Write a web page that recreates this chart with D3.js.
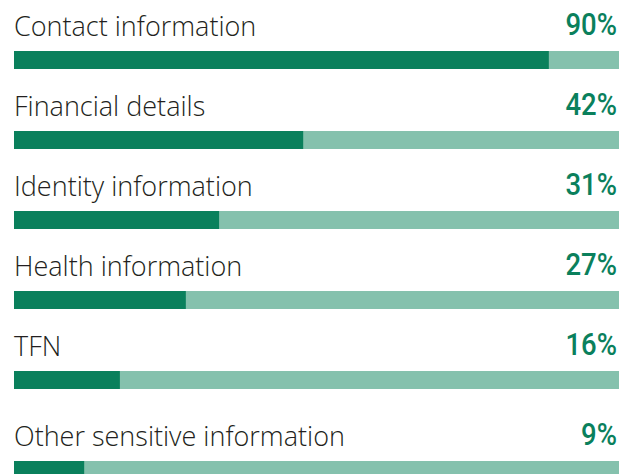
<!DOCTYPE html>
<html>
<head>
<meta charset="utf-8">
<script src="https://cdn.jsdelivr.net/npm/d3@7"></script>
<style>
  html, body { margin: 0; padding: 0; background: #fff; }
  svg { display: block; }
</style>
</head>
<body>
<div id="chart"></div>
<script>
// data
const categories = [
  "Contact information",
  "Financial details",
  "Identity information",
  "Health information",
  "TFN",
  "Other sensitive information"
];
// printed percentages
const valueLabels = ["90%", "42%", "31%", "27%", "16%", "9%"];
// length of the dark segment, share of the full track (measured on the bars)
const barShares = [88.4, 47.8, 33.9, 28.4, 17.5, 11.6];

const width = 635;
const height = 474;
const margin = { left: 14, right: 16 };
const barHeight = 18;
const rowStep = 80;
const firstBarTop = 51;

const darkColor = "#0a805c";
const lightColor = "#85c1ad";
const labelColor = "#231f20";

const svg = d3.select("#chart").append("svg")
  .attr("width", width)
  .attr("height", height);

const x = d3.scaleLinear()
  .domain([0, 100])
  .range([margin.left, width - margin.right]);

// row position; the last row sits a little lower in the original
const rowTop = i => firstBarTop + i * rowStep + (i === categories.length - 1 ? 10 : 0);

const rows = svg.selectAll("g.row")
  .data(categories.map((c, i) => ({ label: c, share: barShares[i], text: valueLabels[i] })))
  .join("g")
  .attr("class", "row")
  .attr("transform", (d, i) => `translate(0, ${rowTop(i)})`);

// background track
rows.append("rect")
  .attr("x", x(0))
  .attr("y", 0)
  .attr("width", x(100) - x(0))
  .attr("height", barHeight)
  .attr("fill", lightColor);

// value
rows.append("rect")
  .attr("x", x(0))
  .attr("y", 0)
  .attr("width", d => x(d.share) - x(0))
  .attr("height", barHeight)
  .attr("fill", darkColor);

rows.append("text")
  .attr("x", x(0))
  .attr("y", -15)
  .attr("fill", labelColor)
  .style("font-family", "'Open Sans', sans-serif")
  .style("font-weight", 300)
  .style("font-size", "27px")
  .text(d => d.label);

// percentages: narrow figures, so squeeze the glyphs a bit
rows.append("text")
  .attr("transform", `translate(${x(100) - 2}, -16) scale(0.86, 1)`)
  .attr("text-anchor", "end")
  .attr("fill", darkColor)
  .style("font-family", "Roboto, sans-serif")
  .style("font-weight", 500)
  .style("font-size", "32px")
  .text(d => d.text);
</script>
</body>
</html>
